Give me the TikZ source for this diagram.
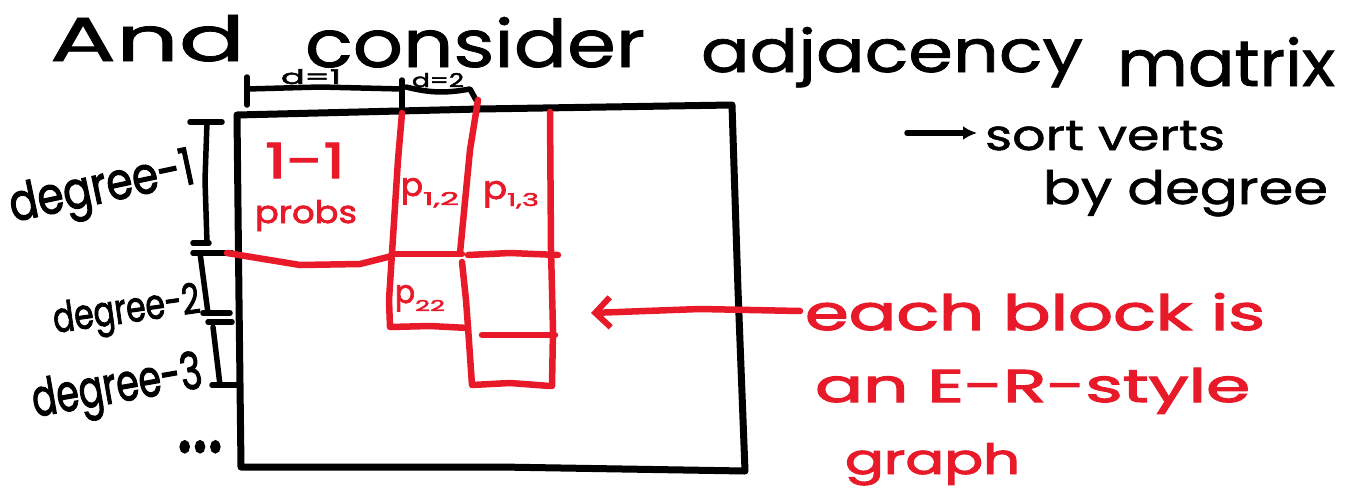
\documentclass[tikz,border=0pt]{standalone}
\usepackage{fontspec}
\setmainfont{Poppins}
\newfontfamily\penfont[FakeBold=1.2]{Poppins}
\newfontfamily\thickpen[FakeBold=2.2]{Poppins}
\usepackage{graphicx}
\usetikzlibrary{arrows.meta}
\definecolor{ink}{RGB}{0,0,0}
\definecolor{marker}{RGB}{232,26,42}
% stretch a word to a given width and ascent (in pt)
\newcommand\fitto[3]{\resizebox{#1pt}{#2pt}{#3}}

\begin{document}
\begin{tikzpicture}[x=1pt,y=-1pt,
  pen/.style={line width=7pt,line cap=round,line join=round,draw=ink},
  thinpen/.style={line width=5.5pt,line cap=round,line join=round,draw=ink},
  redpen/.style={line width=6.5pt,line cap=round,line join=round,draw=marker},
  hand/.style={inner sep=0pt,outer sep=0pt,anchor=base west,text=ink,font=\penfont},
  redhand/.style={hand,text=marker,font=\thickpen},
]
\useasboundingbox (0,0) rectangle (1356,490);

% ---------- heading ----------
\node[hand] (tAnd)  at (50,61)   {\fitto{195}{46}{And}};
\node[hand] (tCons) at (305,67)  {\fitto{340}{50}{consider}};
\node[hand] (tAdj)  at (701,72)  {\fitto{382}{45}{adjacency}};
\node[hand] (tMat)  at (1117,86) {\fitto{218}{49}{matrix}};

% ---------- the matrix ----------
\draw[pen] (237,115) -- (480,109) -- (732,105) -- (738,290) -- (745,471)
           -- (500,467) -- (241,467) -- (239,300) -- cycle;

% column widths above the matrix
\draw[thinpen] (247,77) -- (247,105);
\draw[thinpen] (247,89) -- (320,87) -- (402,89);
\draw[thinpen] (402,80) -- (402,110);
\draw[thinpen] (406,87) to[bend right=12] (470,89) -- (476,100);
\node[hand,font=\thickpen] (d1) at (281,84) {\fitto{60}{15}{d=1}};
\node[hand,font=\thickpen] (d2) at (412,87) {\fitto{52}{14}{d=2}};

% degree classes on the left
\draw[thinpen] (190,122) -- (222,122);
\draw[thinpen] (207,122) -- (205,180) -- (207,243);
\draw[thinpen] (193,243) -- (209,243);
\draw[thinpen] (193,253) -- (232,253);
\draw[thinpen] (200,253) -- (208,313);
\draw[thinpen] (203,313) -- (230,313);
\draw[thinpen] (208,322) -- (232,322);
\draw[thinpen] (213,327) -- (220,385);
\draw[thinpen] (212,385) -- (238,385);

\node[hand,font=\thickpen,rotate=12] (deg1) at (13,222) {\fitto{188}{38}{degree-1}};
\node[hand,font=\thickpen,rotate=8]  (deg2) at (55,333) {\fitto{148}{31}{degree-2}};
\node[hand,font=\thickpen,rotate=10] (deg3) at (35,417) {\fitto{172}{38}{degree-3}};
\node[hand,font=\thickpen] (dots) at (177,452) {\fitto{46}{11}{...}};

% ---------- blocks ----------
\draw[redpen] (227,253) -- (300,265) -- (360,264) -- (392,256);
\draw[redpen] (402,113) -- (398,160) -- (392,253) -- (389,300) -- (390,327)
              -- (430,326) -- (468,328);
\draw[redpen] (392,254) -- (462,254);
\draw[redpen] (478,100) -- (470,150) -- (460,253);
\draw[redpen] (462,262) -- (466,300) -- (468,327) -- (472,385) -- (510,383) -- (550,386);
\draw[redpen] (550,112) -- (551,250) -- (553,330) -- (552,386);
\draw[redpen] (468,255) -- (510,253) -- (558,255);
\draw[redpen] (482,335) -- (555,335);

\node[redhand] (ones)  at (265,178) {\fitto{80}{35}{1-1}};
\node[redhand] (probs) at (255,223) {\fitto{102}{23}{probs}};
\node[redhand] (p12) at (401,196)
  {\fitto{22}{18}{p}\raisebox{-9pt}{\fitto{36}{13}{1,2}}};
\node[redhand] (p13) at (483,199)
  {\fitto{24}{18}{p}\raisebox{-7pt}{\fitto{32}{13}{1,3}}};
\node[redhand] (p22) at (395,303)
  {\fitto{20}{18}{p}\raisebox{-8pt}{\fitto{30}{11}{22}}};

% ---------- notes ----------
\coordinate (sortTail) at (907,133);
\coordinate (sortHead) at (977,133);
\draw[pen,line width=5.5pt,-{Latex[length=14pt,width=14pt]}] (sortTail) -- (sortHead);
\node[hand] (sort) at (985,150)  {\fitto{240}{29}{sort verts}};
\node[hand] (bydeg) at (1043,204) {\fitto{285}{34}{by degree}};

\coordinate (blkTail) at (800,311);
\coordinate (blkHead) at (591,313);
\draw[redpen,-{Straight Barb[length=15pt,width=30pt,line width=6pt]}]
  (blkTail) -- (700,309) -- (blkHead);
\node[redhand] (l1) at (805,330) {\fitto{460}{37}{each block is}};
\node[redhand] (l2) at (815,402) {\fitto{435}{34}{an E-R-style}};
\node[redhand] (l3) at (845,474) {\fitto{175}{31}{graph}};
\end{tikzpicture}
\end{document}
